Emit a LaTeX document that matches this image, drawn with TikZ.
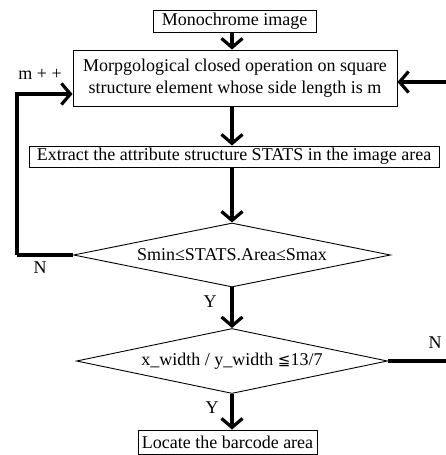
\documentclass[tikz,border=0pt]{standalone}
\usepackage{fontspec}
\setmainfont{Liberation Serif}
\newfontfamily\symfont{DejaVu Sans}
\usetikzlibrary{shapes.geometric,arrows.meta}
\begin{document}
\begin{tikzpicture}[x=1pt,y=-1pt,
  every node/.style={font=\fontsize{18}{22}\selectfont},
  box/.style={draw,line width=0.9pt,inner sep=0pt,align=center},
  dec/.style={draw,line width=0.9pt,diamond,inner sep=0pt,aspect=5},
  flow/.style={line width=3.2pt,-{Straight Barb[length=9pt,width=21pt]}},
  line/.style={line width=3.2pt},
  lab/.style={inner sep=0pt}]
\useasboundingbox (0,0) rectangle (445,455);
\node[box,minimum width=163pt,minimum height=22pt] (n1) at (234.5,21) {Monochrome image};
\node[box,minimum width=324pt,minimum height=56pt] (n2) at (235,78) {Morpgological closed operation on square\\structure element whose side length is m};
\node[box,minimum width=410pt,minimum height=21pt] (n3) at (234,156.5) {Extract the attribute structure STATS in the image area};
\node[dec,minimum width=317pt,minimum height=64pt] (d1) at (232,255) {Smin≤STATS.Area≤Smax};
\node[dec,minimum width=311pt,minimum height=65pt] (d2) at (232,361) {x\_width / y\_width {\symfont\fontsize{15}{18}\selectfont ≦}13/7};
\node[box,minimum width=179pt,minimum height=24pt] (n4) at (227.5,442) {Locate the barcode area};
\coordinate (lc) at (17,255);
\coordinate (rA) at (447,361);
\coordinate (rB) at (447,82);
\draw[flow] (n1.south -| d1) -- (n2.north -| d1);
\draw[flow] (n2.south -| d1) -- (n3.north -| d1);
\draw[flow] (n3.south -| d1) -- (d1.north);
\draw[flow] (d1.south) -- (d2.north);
\draw[flow] (d2.south) -- (n4.north -| d2);
\draw[line] (d1.west) -- (lc);
\draw[flow] (lc) |- (n2.west |- 0,94);
\draw[line] (d2.east) -- (rA);
\draw[flow] (rB) -- (n2.east |- rB);
\node[lab] (lm) at (40,74) {m + +};
\node[lab] (lN1) at (40,268) {N};
\node[lab] (lY1) at (210,302) {Y};
\node[lab] (lN2) at (435,343) {N};
\node[lab] (lY2) at (212,408) {Y};
\end{tikzpicture}
\end{document}
